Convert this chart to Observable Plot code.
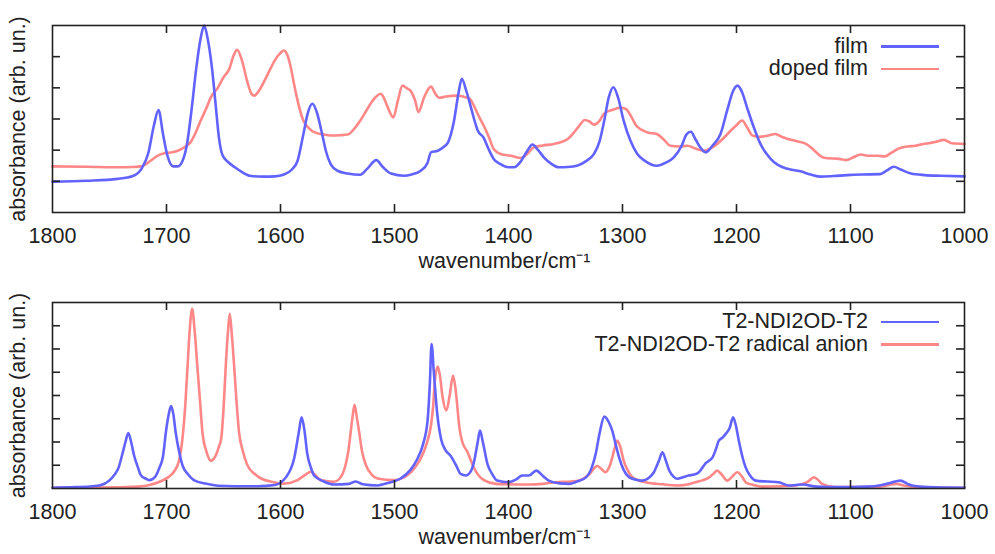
<!DOCTYPE html>
<html><head><meta charset="utf-8">
<script src="https://cdn.jsdelivr.net/npm/d3@7"></script>
<script src="https://cdn.jsdelivr.net/npm/@observablehq/plot@0.6"></script>
<style>
body{margin:0;background:#fff;font-family:"Liberation Sans",Arial,Helvetica,sans-serif;}
#wrap{position:relative;width:995px;height:554px;overflow:hidden;}
.panel{position:absolute;left:0;}
.lg-text{position:absolute;font-size:21.5px;color:#222;white-space:nowrap;line-height:1;transform:translateY(-50%);}
.lg-line{position:absolute;height:2.6px;}
</style>
</head><body>
<div id="wrap"></div>
<script>
// ---------- data ----------
const xTickValues = [1800, 1700, 1600, 1500, 1400, 1300, 1200, 1100, 1000];
const xLabel = "wavenumber/cm⁻¹";
const yLabel = "absorbance (arb. un.)";
const topLegend = ["film", "doped film"];
const bottomLegend = ["T2-NDI2OD-T2", "T2-NDI2OD-T2 radical anion"];

// top panel: film
const filmWn = [1800,1770,1743,1730,1722,1716,1711,1707,1703,1699,1694,1690,1686,1682,1678,1674,1670,1667,1664,1660,1657,1654,1651,1646,1640,1633,1626,1615,1605,1597,1590,1585,1580,1576,1572,1568,1564,1560,1556,1550,1541,1530,1524,1516,1510,1503,1492,1485,1477,1471,1468,1462,1457,1453,1448,1444,1441,1437,1433,1429,1427,1422,1417,1413,1407,1400,1395,1390,1384,1379,1374,1369,1362,1356,1348,1340,1332,1325,1320,1316,1312,1308,1304,1299,1293,1287,1280,1270,1262,1255,1248,1244,1240,1236,1231,1227,1221,1214,1208,1203,1199,1195,1191,1185,1179,1173,1167,1160,1155,1144,1135,1126,1115,1103,1090,1074,1068,1062,1056,1047,1035,1021,1000];
const filmAbs = [0.99,1.02,1.08,1.16,1.4,1.9,2.8,3.29,2.5,1.8,1.48,1.48,1.65,2.2,3.3,4.6,5.6,6.0,5.6,4.6,3.5,2.4,1.85,1.62,1.45,1.28,1.17,1.15,1.16,1.22,1.38,1.66,2.5,3.2,3.49,3.2,2.6,1.95,1.55,1.34,1.25,1.21,1.4,1.68,1.45,1.25,1.18,1.22,1.34,1.6,1.93,1.98,2.1,2.25,2.9,3.8,4.29,3.9,3.38,2.85,2.63,2.41,2.0,1.72,1.55,1.45,1.45,1.6,1.95,2.18,2.0,1.77,1.55,1.45,1.46,1.5,1.65,1.88,2.3,2.95,3.7,4.02,3.7,2.95,2.3,1.88,1.65,1.5,1.6,1.77,2.15,2.5,2.59,2.35,2.05,1.93,2.15,2.52,3.3,3.9,4.07,3.85,3.4,2.75,2.2,1.85,1.61,1.46,1.4,1.32,1.22,1.15,1.17,1.2,1.22,1.23,1.35,1.47,1.38,1.25,1.2,1.18,1.16];

// top panel: doped film
const dopedWn = [1800,1770,1743,1730,1722,1714,1708,1702,1695,1690,1684,1679,1674,1670,1665,1661,1655,1650,1645,1641,1638,1634,1629,1626,1623,1619,1614,1609,1605,1600,1597,1594,1591,1588,1585,1580,1575,1570,1562,1556,1548,1541,1535,1530,1525,1521,1516,1512,1509,1506,1501,1497,1493,1489,1486,1482,1479,1474,1468,1464,1461,1455,1445,1438,1434,1430,1427,1421,1417,1413,1407,1398,1389,1383,1378,1370,1360,1353,1348,1343,1339,1333,1329,1325,1320,1316,1308,1302,1297,1292,1288,1283,1278,1270,1264,1258,1250,1243,1236,1229,1223,1217,1211,1205,1200,1195,1191,1186,1180,1172,1166,1160,1155,1146,1139,1132,1126,1120,1112,1104,1097,1091,1084,1076,1070,1064,1058,1050,1043,1036,1030,1024,1018,1011,1000];
const dopedAbs = [1.48,1.47,1.45,1.46,1.48,1.66,1.82,1.9,1.93,1.98,2.1,2.25,2.6,2.95,3.35,3.7,4.0,4.34,4.6,5.05,5.22,4.9,4.18,3.85,3.75,3.9,4.23,4.6,4.88,5.12,5.2,5.05,4.66,4.1,3.59,2.95,2.7,2.57,2.5,2.47,2.48,2.5,2.7,2.95,3.25,3.49,3.72,3.81,3.65,3.38,3.05,3.6,4.07,3.98,3.91,3.6,3.22,3.7,4.04,3.8,3.68,3.72,3.75,3.7,3.65,3.4,3.16,2.73,2.4,2.04,1.88,1.82,1.75,1.9,2.09,2.15,2.2,2.27,2.36,2.55,2.73,2.97,2.92,2.82,2.95,3.18,3.3,3.36,3.32,3.05,2.79,2.65,2.57,2.52,2.35,2.14,2.12,2.14,2.05,1.98,2.05,2.2,2.4,2.63,2.8,2.95,2.75,2.47,2.43,2.47,2.52,2.42,2.36,2.28,2.2,2.0,1.8,1.74,1.73,1.68,1.78,1.86,1.82,1.82,1.8,1.92,2.05,2.12,2.14,2.2,2.23,2.28,2.33,2.22,2.2];

// bottom panel: T2-NDI2OD-T2
const neutralWn = [1800,1780,1765,1758,1750,1746,1742,1739,1736,1733.5,1731,1728.5,1725,1722.5,1718,1715,1710,1706.5,1703,1700.5,1698,1696,1694,1692,1689,1686,1681,1676,1665,1655,1640,1620,1605,1595,1588,1584,1581.5,1579,1576.5,1573,1570.5,1562,1553,1540,1534,1528,1515,1505,1495,1486,1480,1475,1471,1469,1467.5,1465.5,1462.5,1459,1455,1451,1446,1442,1437.5,1433,1430,1427,1425,1422.5,1418.5,1414,1410,1400,1393,1388,1382,1375.6,1370,1364.6,1355,1347,1340,1332,1327,1323.5,1320,1316,1312,1309,1306,1303,1299,1294,1288,1282.5,1277,1272.5,1268,1265,1262,1259,1255,1252,1247,1242,1237,1233,1227,1221,1218,1215.5,1212,1209.5,1206,1203,1200.5,1198,1195,1192,1188,1183,1173,1163,1154,1148,1142,1130,1119,1100,1085,1075,1066,1056,1050,1046,1032,1000];
const neutralAbs = [0.03,0.06,0.1,0.14,0.35,0.57,0.9,1.43,2.0,2.39,2.0,1.43,0.9,0.57,0.42,0.36,0.5,0.86,1.4,2.43,3.2,3.55,3.2,2.43,1.6,1.0,0.6,0.36,0.2,0.12,0.1,0.1,0.15,0.5,1.3,2.4,3.06,2.5,1.49,0.85,0.56,0.3,0.17,0.2,0.3,0.18,0.13,0.25,0.42,0.8,1.27,1.9,2.92,4.5,6.21,5.0,3.21,2.1,1.63,1.42,1.0,0.63,0.56,0.75,1.2,2.0,2.49,2.0,1.06,0.6,0.34,0.27,0.4,0.56,0.56,0.77,0.55,0.34,0.22,0.2,0.3,0.48,0.9,1.49,2.4,3.09,2.85,2.49,1.9,1.34,0.8,0.48,0.38,0.34,0.45,0.7,1.2,1.56,1.2,0.77,0.5,0.42,0.48,0.56,0.6,0.7,1.09,1.34,1.7,2.06,2.2,2.35,2.6,3.06,2.7,2.06,1.4,0.91,0.55,0.34,0.3,0.27,0.13,0.15,0.17,0.08,0.06,0.06,0.08,0.13,0.23,0.34,0.2,0.13,0.06,0.03];

// bottom panel: T2-NDI2OD-T2 radical anion
const anionWn = [1800,1760,1729,1715,1705,1698,1693.5,1689,1686,1683.5,1681.5,1679.5,1677.5,1675.5,1673,1670.5,1668.5,1665,1661,1657,1654,1652,1650,1648,1646,1644.5,1643,1640.7,1638.5,1636.4,1633,1629,1622,1617,1607,1597,1585,1578,1573.5,1569,1564.7,1553,1547,1543,1540.5,1538.4,1536.5,1535,1533.5,1531,1528.5,1525,1520,1515,1500.5,1488.7,1482,1477,1472,1468,1466,1464.7,1462,1460,1458,1454.5,1451.6,1448.7,1446.5,1445,1443,1440.5,1436,1433,1430,1426,1421.5,1411,1400,1382,1370,1358.6,1345,1338,1329.4,1322,1318,1315,1311,1307,1304.6,1302,1299,1295,1291.4,1280,1265,1250.5,1242,1236,1230,1224,1220,1217,1213,1208,1204,1199.3,1195,1192,1185,1177.5,1160,1148,1138,1132,1128,1125,1113,1090,1075,1066,1060,1052,1043,1000];
const anionAbs = [0.03,0.04,0.07,0.15,0.31,0.5,0.72,1.2,2.15,3.6,5.29,6.9,7.73,6.9,5.29,3.7,2.43,1.6,1.19,1.4,1.8,2.15,3.4,5.29,6.8,7.51,6.8,5.29,3.7,2.43,1.6,1.0,0.6,0.43,0.28,0.21,0.36,0.6,0.72,0.55,0.36,0.29,0.5,1.0,1.6,2.43,3.2,3.6,3.2,2.43,1.6,1.0,0.6,0.43,0.36,0.57,0.9,1.29,1.9,2.72,3.6,4.58,5.25,4.8,4.0,3.36,4.0,4.86,4.3,3.58,2.6,2.0,1.57,1.2,0.86,0.55,0.36,0.2,0.18,0.17,0.2,0.27,0.3,0.34,0.6,0.97,0.82,0.7,1.0,1.7,2.06,1.8,1.2,0.75,0.48,0.27,0.18,0.13,0.18,0.27,0.35,0.48,0.65,0.77,0.6,0.34,0.5,0.7,0.5,0.27,0.15,0.08,0.1,0.13,0.27,0.48,0.35,0.2,0.06,0.06,0.08,0.15,0.2,0.12,0.06,0.03];

const BLUE = "#6262ff";
const RED = "#ff8787";
const INK = "#222";
const FONT = '"Liberation Sans", Arial, Helvetica, sans-serif';

function panel({series, yMax, height, marginTop, marginBottom}) {
  const W = 995, mL = 52, mR = 31;
  const frameH = height - marginTop - marginBottom;
  const frameW = W - mL - mR;
  const innerX = xTickValues.slice(1, -1);
  const innerY = d3.range(1, yMax);
  const T = 8;
  return Plot.plot({
    width: W, height, marginLeft: mL, marginRight: mR, marginTop, marginBottom,
    style: {fontSize: "21.5px", fontFamily: FONT, color: INK, background: "transparent", overflow: "visible"},
    x: {domain: [1800, 1000]},
    y: {domain: [0, yMax], axis: null},
    marks: [
      ...series.map(s => Plot.line(d3.zip(s.wn, s.abs), {
        x: d => d[0], y: d => d[1], stroke: s.color, strokeWidth: 2.6,
        curve: "monotone-x", strokeLinejoin: "round"
      })),
      Plot.tickX(innerX, {x: d => d, insetTop: frameH - T, stroke: INK, strokeWidth: 1.6}),
      Plot.tickX(innerX, {x: d => d, insetBottom: frameH - T, stroke: INK, strokeWidth: 1.6}),
      Plot.tickY(innerY, {y: d => d, insetRight: frameW - T, stroke: INK, strokeWidth: 1.6}),
      Plot.tickY(innerY, {y: d => d, insetLeft: frameW - T, stroke: INK, strokeWidth: 1.6}),
      Plot.frame({stroke: INK, strokeWidth: 1.6}),
      Plot.axisX(xTickValues, {anchor: "bottom", tickSize: 0, tickPadding: 15, tickFormat: d => String(d), label: null}),
      Plot.text([xLabel], {frameAnchor: "bottom", dy: 55, dx: -4, fill: INK, textAnchor: "middle"}),
      Plot.text([yLabel], {frameAnchor: "left", rotate: -90, dx: -34, fill: INK, textAnchor: "middle"})
    ]
  });
}

const wrap = document.getElementById("wrap");

function addPanel(el, top) {
  el.classList.add("panel");
  el.style.top = top + "px";
  wrap.appendChild(el);
}

function addLegend(labels, colors, rowsY) {
  labels.forEach((lab, i) => {
    const t = document.createElement("div");
    t.className = "lg-text";
    t.textContent = lab;
    t.style.right = (995 - 868) + "px";
    t.style.top = rowsY[i] + "px";
    wrap.appendChild(t);
    const l = document.createElement("div");
    l.className = "lg-line";
    l.style.left = "881px";
    l.style.width = "58px";
    l.style.top = (rowsY[i] - 1.3) + "px";
    l.style.background = colors[i];
    wrap.appendChild(l);
  });
}

addPanel(panel({
  series: [
    {wn: dopedWn, abs: dopedAbs, color: RED},
    {wn: filmWn, abs: filmAbs, color: BLUE}
  ],
  yMax: 6, height: 280, marginTop: 25, marginBottom: 68
}), 0);

addPanel(panel({
  series: [
    {wn: anionWn, abs: anionAbs, color: RED},
    {wn: neutralWn, abs: neutralAbs, color: BLUE}
  ],
  yMax: 8, height: 274, marginTop: 22, marginBottom: 66
}), 280);

addLegend(topLegend, [BLUE, RED], [46.5, 69]);
addLegend(bottomLegend, [BLUE, RED], [322, 344.5]);
</script>
</body></html>
